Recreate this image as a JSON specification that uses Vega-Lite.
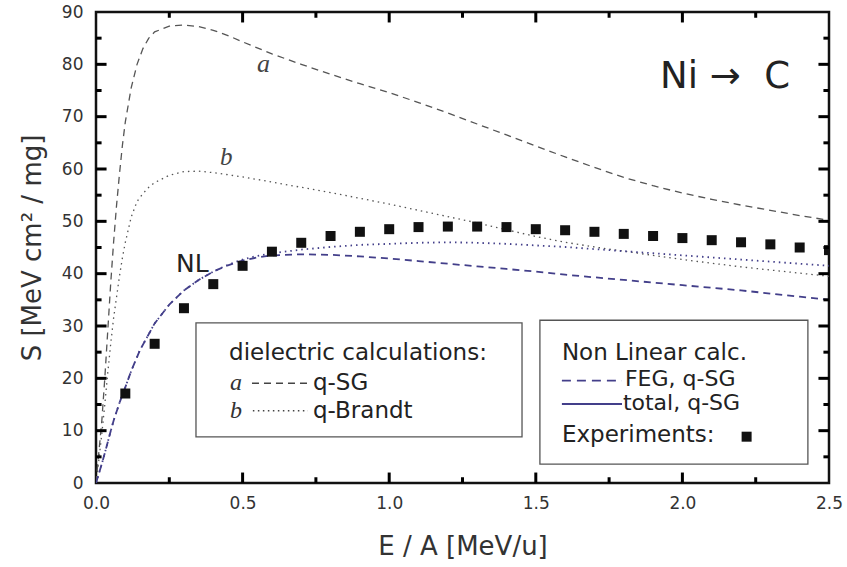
{
"$schema": "https://vega.github.io/schema/vega-lite/v6.json",
"width": 733, "height": 471,
"autosize": {"type": "none"},
"padding": {"left": 96, "top": 12, "right": 18, "bottom": 84},
"background": "white",
"config": {"view": {"stroke": "#111", "strokeWidth": 2.5}, "axis": {"grid": false}},
"resolve": {"axis": {"x": "independent", "y": "independent"}},
"datasets": {
"curves": [
{"s":"a","E":0,"S":0},{"s":"a","E":0.01,"S":6},{"s":"a","E":0.02,"S":12},{"s":"a","E":0.03,"S":20},{"s":"a","E":0.04,"S":29},{"s":"a","E":0.05,"S":38},{"s":"a","E":0.06,"S":46},{"s":"a","E":0.07,"S":53},{"s":"a","E":0.08,"S":59},{"s":"a","E":0.09,"S":64.5},{"s":"a","E":0.1,"S":69},{"s":"a","E":0.12,"S":75.5},{"s":"a","E":0.14,"S":80},{"s":"a","E":0.16,"S":83},{"s":"a","E":0.18,"S":85},{"s":"a","E":0.2,"S":86.2},{"s":"a","E":0.25,"S":87.3},{"s":"a","E":0.3,"S":87.5},{"s":"a","E":0.35,"S":87.2},{"s":"a","E":0.4,"S":86.5},{"s":"a","E":0.45,"S":85.5},{"s":"a","E":0.5,"S":84.3},{"s":"a","E":0.6,"S":82},{"s":"a","E":0.7,"S":80},{"s":"a","E":0.8,"S":78.1},{"s":"a","E":0.9,"S":76.3},{"s":"a","E":1.0,"S":74.6},{"s":"a","E":1.1,"S":72.7},{"s":"a","E":1.2,"S":70.7},{"s":"a","E":1.3,"S":68.6},{"s":"a","E":1.4,"S":66.5},{"s":"a","E":1.5,"S":64.4},{"s":"a","E":1.6,"S":62.3},{"s":"a","E":1.7,"S":60.3},{"s":"a","E":1.8,"S":58.4},{"s":"a","E":1.9,"S":56.8},{"s":"a","E":2.0,"S":55.4},{"s":"a","E":2.1,"S":54.2},{"s":"a","E":2.2,"S":53.1},{"s":"a","E":2.3,"S":52.1},{"s":"a","E":2.4,"S":51.1},{"s":"a","E":2.5,"S":50.2},
{"s":"b","E":0,"S":0},{"s":"b","E":0.01,"S":4.5},{"s":"b","E":0.02,"S":9.5},{"s":"b","E":0.03,"S":15},{"s":"b","E":0.04,"S":21},{"s":"b","E":0.05,"S":26.5},{"s":"b","E":0.06,"S":31.5},{"s":"b","E":0.07,"S":35.5},{"s":"b","E":0.08,"S":39.5},{"s":"b","E":0.09,"S":43},{"s":"b","E":0.1,"S":46},{"s":"b","E":0.12,"S":50.8},{"s":"b","E":0.14,"S":53.8},{"s":"b","E":0.16,"S":55.3},{"s":"b","E":0.18,"S":56.5},{"s":"b","E":0.2,"S":57.4},{"s":"b","E":0.25,"S":58.8},{"s":"b","E":0.3,"S":59.5},{"s":"b","E":0.35,"S":59.6},{"s":"b","E":0.4,"S":59.3},{"s":"b","E":0.45,"S":58.9},{"s":"b","E":0.5,"S":58.5},{"s":"b","E":0.6,"S":57.5},{"s":"b","E":0.7,"S":56.5},{"s":"b","E":0.8,"S":55.5},{"s":"b","E":0.9,"S":54.4},{"s":"b","E":1.0,"S":53.3},{"s":"b","E":1.1,"S":52.1},{"s":"b","E":1.2,"S":50.9},{"s":"b","E":1.3,"S":49.7},{"s":"b","E":1.4,"S":48.4},{"s":"b","E":1.5,"S":47.1},{"s":"b","E":1.6,"S":46},{"s":"b","E":1.7,"S":45.1},{"s":"b","E":1.8,"S":44.3},{"s":"b","E":1.9,"S":43.5},{"s":"b","E":2.0,"S":42.7},{"s":"b","E":2.1,"S":42},{"s":"b","E":2.2,"S":41.3},{"s":"b","E":2.3,"S":40.7},{"s":"b","E":2.4,"S":40.1},{"s":"b","E":2.5,"S":39.5},
{"s":"total","E":0,"S":0},{"s":"total","E":0.01,"S":1.8},{"s":"total","E":0.02,"S":3.7},{"s":"total","E":0.03,"S":5.7},{"s":"total","E":0.04,"S":7.8},{"s":"total","E":0.05,"S":9.9},{"s":"total","E":0.06,"S":11.9},{"s":"total","E":0.08,"S":15.3},{"s":"total","E":0.1,"S":18.3},{"s":"total","E":0.12,"S":21.4},{"s":"total","E":0.15,"S":25.4},{"s":"total","E":0.2,"S":30.5},{"s":"total","E":0.25,"S":34.1},{"s":"total","E":0.3,"S":36.8},{"s":"total","E":0.35,"S":38.8},{"s":"total","E":0.4,"S":40.4},{"s":"total","E":0.45,"S":41.7},{"s":"total","E":0.5,"S":42.7},{"s":"total","E":0.55,"S":43.4},{"s":"total","E":0.6,"S":43.9},{"s":"total","E":0.7,"S":44.6},{"s":"total","E":0.8,"S":45.1},{"s":"total","E":0.9,"S":45.5},{"s":"total","E":1.0,"S":45.7},{"s":"total","E":1.1,"S":45.9},{"s":"total","E":1.2,"S":46},{"s":"total","E":1.3,"S":45.9},{"s":"total","E":1.4,"S":45.7},{"s":"total","E":1.5,"S":45.4},{"s":"total","E":1.6,"S":45.1},{"s":"total","E":1.7,"S":44.7},{"s":"total","E":1.8,"S":44.3},{"s":"total","E":1.9,"S":43.9},{"s":"total","E":2.0,"S":43.5},{"s":"total","E":2.1,"S":43.1},{"s":"total","E":2.2,"S":42.7},{"s":"total","E":2.3,"S":42.3},{"s":"total","E":2.4,"S":41.9},{"s":"total","E":2.5,"S":41.5},
{"s":"FEG","E":0,"S":0},{"s":"FEG","E":0.01,"S":1.8},{"s":"FEG","E":0.02,"S":3.7},{"s":"FEG","E":0.03,"S":5.7},{"s":"FEG","E":0.04,"S":7.8},{"s":"FEG","E":0.05,"S":9.9},{"s":"FEG","E":0.06,"S":11.9},{"s":"FEG","E":0.08,"S":15.3},{"s":"FEG","E":0.1,"S":18.3},{"s":"FEG","E":0.12,"S":21.4},{"s":"FEG","E":0.15,"S":25.4},{"s":"FEG","E":0.2,"S":30.5},{"s":"FEG","E":0.25,"S":34.1},{"s":"FEG","E":0.3,"S":36.8},{"s":"FEG","E":0.35,"S":38.8},{"s":"FEG","E":0.4,"S":40.4},{"s":"FEG","E":0.45,"S":41.6},{"s":"FEG","E":0.5,"S":42.5},{"s":"FEG","E":0.55,"S":43.1},{"s":"FEG","E":0.6,"S":43.5},{"s":"FEG","E":0.7,"S":43.7},{"s":"FEG","E":0.8,"S":43.6},{"s":"FEG","E":0.9,"S":43.3},{"s":"FEG","E":1.0,"S":42.9},{"s":"FEG","E":1.1,"S":42.4},{"s":"FEG","E":1.2,"S":41.9},{"s":"FEG","E":1.3,"S":41.4},{"s":"FEG","E":1.4,"S":40.9},{"s":"FEG","E":1.5,"S":40.4},{"s":"FEG","E":1.6,"S":39.8},{"s":"FEG","E":1.7,"S":39.3},{"s":"FEG","E":1.8,"S":38.8},{"s":"FEG","E":1.9,"S":38.3},{"s":"FEG","E":2.0,"S":37.8},{"s":"FEG","E":2.1,"S":37.3},{"s":"FEG","E":2.2,"S":36.8},{"s":"FEG","E":2.3,"S":36.2},{"s":"FEG","E":2.4,"S":35.6},{"s":"FEG","E":2.5,"S":35.0}
],
"exp": [
{"E":0.1,"S":17.1},{"E":0.2,"S":26.6},{"E":0.3,"S":33.4},{"E":0.4,"S":38.0},{"E":0.5,"S":41.5},{"E":0.6,"S":44.2},{"E":0.7,"S":45.9},{"E":0.8,"S":47.2},{"E":0.9,"S":48.0},{"E":1.0,"S":48.5},{"E":1.1,"S":48.9},{"E":1.2,"S":49.0},{"E":1.3,"S":49.0},{"E":1.4,"S":48.9},{"E":1.5,"S":48.5},{"E":1.6,"S":48.3},{"E":1.7,"S":48.0},{"E":1.8,"S":47.6},{"E":1.9,"S":47.2},{"E":2.0,"S":46.8},{"E":2.1,"S":46.4},{"E":2.2,"S":46.0},{"E":2.3,"S":45.6},{"E":2.4,"S":45.0},{"E":2.5,"S":44.5}
],
"xmajor": [{"v":0.5},{"v":1.0},{"v":1.5},{"v":2.0}],
"xminor": [{"v":0.25},{"v":0.75},{"v":1.25},{"v":1.75},{"v":2.25}],
"ymajor": [{"v":10},{"v":20},{"v":30},{"v":40},{"v":50},{"v":60},{"v":70},{"v":80}],
"yminor": [{"v":5},{"v":15},{"v":25},{"v":35},{"v":45},{"v":55},{"v":65},{"v":75},{"v":85}]
},
"layer": [
{
"data": {"name": "curves"},
"transform": [{"filter": "datum.s === 'a' || datum.s === 'b'"}],
"mark": {"type": "line", "stroke": "#555", "strokeWidth": 1.3, "clip": true},
"encoding": {
"x": {"field": "E", "type": "quantitative", "scale": {"domain": [0, 2.5], "nice": false, "zero": false},
"axis": {"orient": "bottom", "values": [0,0.5,1,1.5,2,2.5], "format": ".1f", "domain": false, "ticks": false,
"labelFont": "DejaVu Sans", "labelFontSize": 17, "labelColor": "#333", "labelPadding": 12, "labelFlush": false, "labelOverlap": false,
"title": "E / A [MeV/u]", "titleFont": "DejaVu Sans", "titleFontSize": 26, "titleFontWeight": "normal", "titleColor": "#333", "titlePadding": 22}},
"y": {"field": "S", "type": "quantitative", "scale": {"domain": [0, 90], "nice": false},
"axis": {"orient": "left", "values": [0,10,20,30,40,50,60,70,80,90], "domain": false, "ticks": false,
"labelFont": "DejaVu Sans", "labelFontSize": 17, "labelColor": "#333", "labelPadding": 13, "labelOverlap": false,
"title": "S [MeV cm² / mg]", "titleFont": "DejaVu Sans", "titleFontSize": 26, "titleFontWeight": "normal", "titleColor": "#333", "titlePadding": 16}},
"strokeDash": {"field": "s", "type": "nominal", "scale": {"domain": ["a", "b"], "range": [[7, 5], [1.5, 4]]}, "legend": null}
}
},
{
"data": {"name": "curves"},
"transform": [{"filter": "datum.s === 'FEG' || datum.s === 'total'"}],
"mark": {"type": "line", "stroke": "#433f8a", "strokeWidth": 1.8, "clip": true},
"encoding": {
"x": {"field": "E", "type": "quantitative", "axis": null},
"y": {"field": "S", "type": "quantitative", "axis": null},
"strokeDash": {"field": "s", "type": "nominal", "scale": {"domain": ["FEG", "total"], "range": [[9, 6], [1, 0]]}, "legend": null}
}
},
{
"data": {"name": "exp"},
"mark": {"type": "square", "size": 100, "fill": "#111", "opacity": 1, "clip": true},
"encoding": {
"x": {"field": "E", "type": "quantitative", "axis": null},
"y": {"field": "S", "type": "quantitative", "axis": null}
}
},
{
"data": {"name": "xmajor"},
"mark": {"type": "rule", "stroke": "#000", "strokeWidth": 3},
"encoding": {"x": {"field": "v", "type": "quantitative", "axis": null}, "y": {"datum": 0, "type": "quantitative", "axis": null}, "y2": {"datum": 2.0}}
},
{
"data": {"name": "xminor"},
"mark": {"type": "rule", "stroke": "#000", "strokeWidth": 3},
"encoding": {"x": {"field": "v", "type": "quantitative", "axis": null}, "y": {"datum": 0, "type": "quantitative", "axis": null}, "y2": {"datum": 1.1}}
},
{
"data": {"name": "xmajor"},
"mark": {"type": "rule", "stroke": "#000", "strokeWidth": 3},
"encoding": {"x": {"field": "v", "type": "quantitative", "axis": null}, "y": {"datum": 90, "type": "quantitative", "axis": null}, "y2": {"datum": 88.0}}
},
{
"data": {"name": "xminor"},
"mark": {"type": "rule", "stroke": "#000", "strokeWidth": 3},
"encoding": {"x": {"field": "v", "type": "quantitative", "axis": null}, "y": {"datum": 90, "type": "quantitative", "axis": null}, "y2": {"datum": 88.9}}
},
{
"data": {"name": "ymajor"},
"mark": {"type": "rule", "stroke": "#000", "strokeWidth": 3},
"encoding": {"y": {"field": "v", "type": "quantitative", "axis": null}, "x": {"datum": 0, "type": "quantitative", "axis": null}, "x2": {"datum": 0.036}}
},
{
"data": {"name": "yminor"},
"mark": {"type": "rule", "stroke": "#000", "strokeWidth": 3},
"encoding": {"y": {"field": "v", "type": "quantitative", "axis": null}, "x": {"datum": 0, "type": "quantitative", "axis": null}, "x2": {"datum": 0.019}}
},
{
"data": {"name": "ymajor"},
"mark": {"type": "rule", "stroke": "#000", "strokeWidth": 3},
"encoding": {"y": {"field": "v", "type": "quantitative", "axis": null}, "x": {"datum": 2.5, "type": "quantitative", "axis": null}, "x2": {"datum": 2.464}}
},
{
"data": {"name": "yminor"},
"mark": {"type": "rule", "stroke": "#000", "strokeWidth": 3},
"encoding": {"y": {"field": "v", "type": "quantitative", "axis": null}, "x": {"datum": 2.5, "type": "quantitative", "axis": null}, "x2": {"datum": 2.481}}
},
{
"data": {"values": [{}]},
"mark": {"type": "rect", "fill": "white", "stroke": "#555", "strokeWidth": 1.3},
"encoding": {"x": {"datum": 0.341, "type": "quantitative", "axis": null}, "x2": {"datum": 1.453}, "y": {"datum": 30.6, "type": "quantitative", "axis": null}, "y2": {"datum": 8.8}}
},
{
"data": {"values": [{}]},
"mark": {"type": "rect", "fill": "white", "stroke": "#555", "strokeWidth": 1.3},
"encoding": {"x": {"datum": 1.514, "type": "quantitative", "axis": null}, "x2": {"datum": 2.428}, "y": {"datum": 31.1, "type": "quantitative", "axis": null}, "y2": {"datum": 3.6}}
},
{
"data": {"values": [{}]},
"mark": {"type": "text", "text": "dielectric calculations:", "align": "left", "baseline": "alphabetic", "font": "DejaVu Sans", "fontSize": 23, "fill": "#222"},
"encoding": {"x": {"datum": 0.454, "type": "quantitative", "axis": null}, "y": {"datum": 23.5, "type": "quantitative", "axis": null}}
},
{
"data": {"values": [{}]},
"mark": {"type": "text", "text": "a", "align": "left", "baseline": "alphabetic", "font": "Liberation Serif", "fontStyle": "italic", "fontSize": 24, "fill": "#333"},
"encoding": {"x": {"datum": 0.457, "type": "quantitative", "axis": null}, "y": {"datum": 17.8, "type": "quantitative", "axis": null}}
},
{
"data": {"values": [{}]},
"mark": {"type": "rule", "stroke": "#444", "strokeWidth": 1.4, "strokeDash": [7, 5]},
"encoding": {"x": {"datum": 0.532, "type": "quantitative", "axis": null}, "x2": {"datum": 0.72}, "y": {"datum": 19.05, "type": "quantitative", "axis": null}}
},
{
"data": {"values": [{}]},
"mark": {"type": "text", "text": "q-SG", "align": "left", "baseline": "alphabetic", "font": "DejaVu Sans", "fontSize": 23, "fill": "#222"},
"encoding": {"x": {"datum": 0.74, "type": "quantitative", "axis": null}, "y": {"datum": 17.8, "type": "quantitative", "axis": null}}
},
{
"data": {"values": [{}]},
"mark": {"type": "text", "text": "b", "align": "left", "baseline": "alphabetic", "font": "Liberation Serif", "fontStyle": "italic", "fontSize": 24, "fill": "#333"},
"encoding": {"x": {"datum": 0.457, "type": "quantitative", "axis": null}, "y": {"datum": 12.4, "type": "quantitative", "axis": null}}
},
{
"data": {"values": [{}]},
"mark": {"type": "rule", "stroke": "#444", "strokeWidth": 1.4, "strokeDash": [1.5, 3.5]},
"encoding": {"x": {"datum": 0.535, "type": "quantitative", "axis": null}, "x2": {"datum": 0.723}, "y": {"datum": 13.8, "type": "quantitative", "axis": null}}
},
{
"data": {"values": [{}]},
"mark": {"type": "text", "text": "q-Brandt", "align": "left", "baseline": "alphabetic", "font": "DejaVu Sans", "fontSize": 23, "fill": "#222"},
"encoding": {"x": {"datum": 0.74, "type": "quantitative", "axis": null}, "y": {"datum": 12.4, "type": "quantitative", "axis": null}}
},
{
"data": {"values": [{}]},
"mark": {"type": "text", "text": "Non Linear calc.", "align": "left", "baseline": "alphabetic", "font": "DejaVu Sans", "fontSize": 23, "fill": "#222"},
"encoding": {"x": {"datum": 1.589, "type": "quantitative", "axis": null}, "y": {"datum": 23.5, "type": "quantitative", "axis": null}}
},
{
"data": {"values": [{}]},
"mark": {"type": "rule", "stroke": "#433f8a", "strokeWidth": 1.8, "strokeDash": [9, 6]},
"encoding": {"x": {"datum": 1.589, "type": "quantitative", "axis": null}, "x2": {"datum": 1.794}, "y": {"datum": 19.55, "type": "quantitative", "axis": null}}
},
{
"data": {"values": [{}]},
"mark": {"type": "text", "text": "FEG, q-SG", "align": "left", "baseline": "alphabetic", "font": "DejaVu Sans", "fontSize": 22, "fill": "#222"},
"encoding": {"x": {"datum": 1.804, "type": "quantitative", "axis": null}, "y": {"datum": 18.5, "type": "quantitative", "axis": null}}
},
{
"data": {"values": [{}]},
"mark": {"type": "rule", "stroke": "#433f8a", "strokeWidth": 2},
"encoding": {"x": {"datum": 1.589, "type": "quantitative", "axis": null}, "x2": {"datum": 1.794}, "y": {"datum": 15.1, "type": "quantitative", "axis": null}}
},
{
"data": {"values": [{}]},
"mark": {"type": "text", "text": "total, q-SG", "align": "left", "baseline": "alphabetic", "font": "DejaVu Sans", "fontSize": 22, "fill": "#222"},
"encoding": {"x": {"datum": 1.797, "type": "quantitative", "axis": null}, "y": {"datum": 13.9, "type": "quantitative", "axis": null}}
},
{
"data": {"values": [{}]},
"mark": {"type": "text", "text": "Experiments:", "align": "left", "baseline": "alphabetic", "font": "DejaVu Sans", "fontSize": 23, "fill": "#222"},
"encoding": {"x": {"datum": 1.589, "type": "quantitative", "axis": null}, "y": {"datum": 7.9, "type": "quantitative", "axis": null}}
},
{
"data": {"values": [{}]},
"mark": {"type": "square", "size": 100, "fill": "#111", "opacity": 1},
"encoding": {"x": {"datum": 2.219, "type": "quantitative", "axis": null}, "y": {"datum": 8.85, "type": "quantitative", "axis": null}}
},
{
"data": {"values": [{}]},
"mark": {"type": "text", "text": "Ni → \u00a0C", "align": "left", "baseline": "alphabetic", "font": "DejaVu Sans", "fontSize": 37, "fill": "#222"},
"encoding": {"x": {"datum": 1.924, "type": "quantitative", "axis": null}, "y": {"datum": 75.4, "type": "quantitative", "axis": null}}
},
{
"data": {"values": [{}]},
"mark": {"type": "text", "text": "a", "align": "left", "baseline": "alphabetic", "font": "Liberation Serif", "fontStyle": "italic", "fontSize": 26, "fill": "#444"},
"encoding": {"x": {"datum": 0.549, "type": "quantitative", "axis": null}, "y": {"datum": 78.6, "type": "quantitative", "axis": null}}
},
{
"data": {"values": [{}]},
"mark": {"type": "text", "text": "b", "align": "left", "baseline": "alphabetic", "font": "Liberation Serif", "fontStyle": "italic", "fontSize": 25, "fill": "#444"},
"encoding": {"x": {"datum": 0.423, "type": "quantitative", "axis": null}, "y": {"datum": 60.8, "type": "quantitative", "axis": null}}
},
{
"data": {"values": [{}]},
"mark": {"type": "text", "text": "NL", "align": "left", "baseline": "alphabetic", "font": "DejaVu Sans", "fontSize": 25, "fill": "#222"},
"encoding": {"x": {"datum": 0.273, "type": "quantitative", "axis": null}, "y": {"datum": 40.4, "type": "quantitative", "axis": null}}
}
]
}
